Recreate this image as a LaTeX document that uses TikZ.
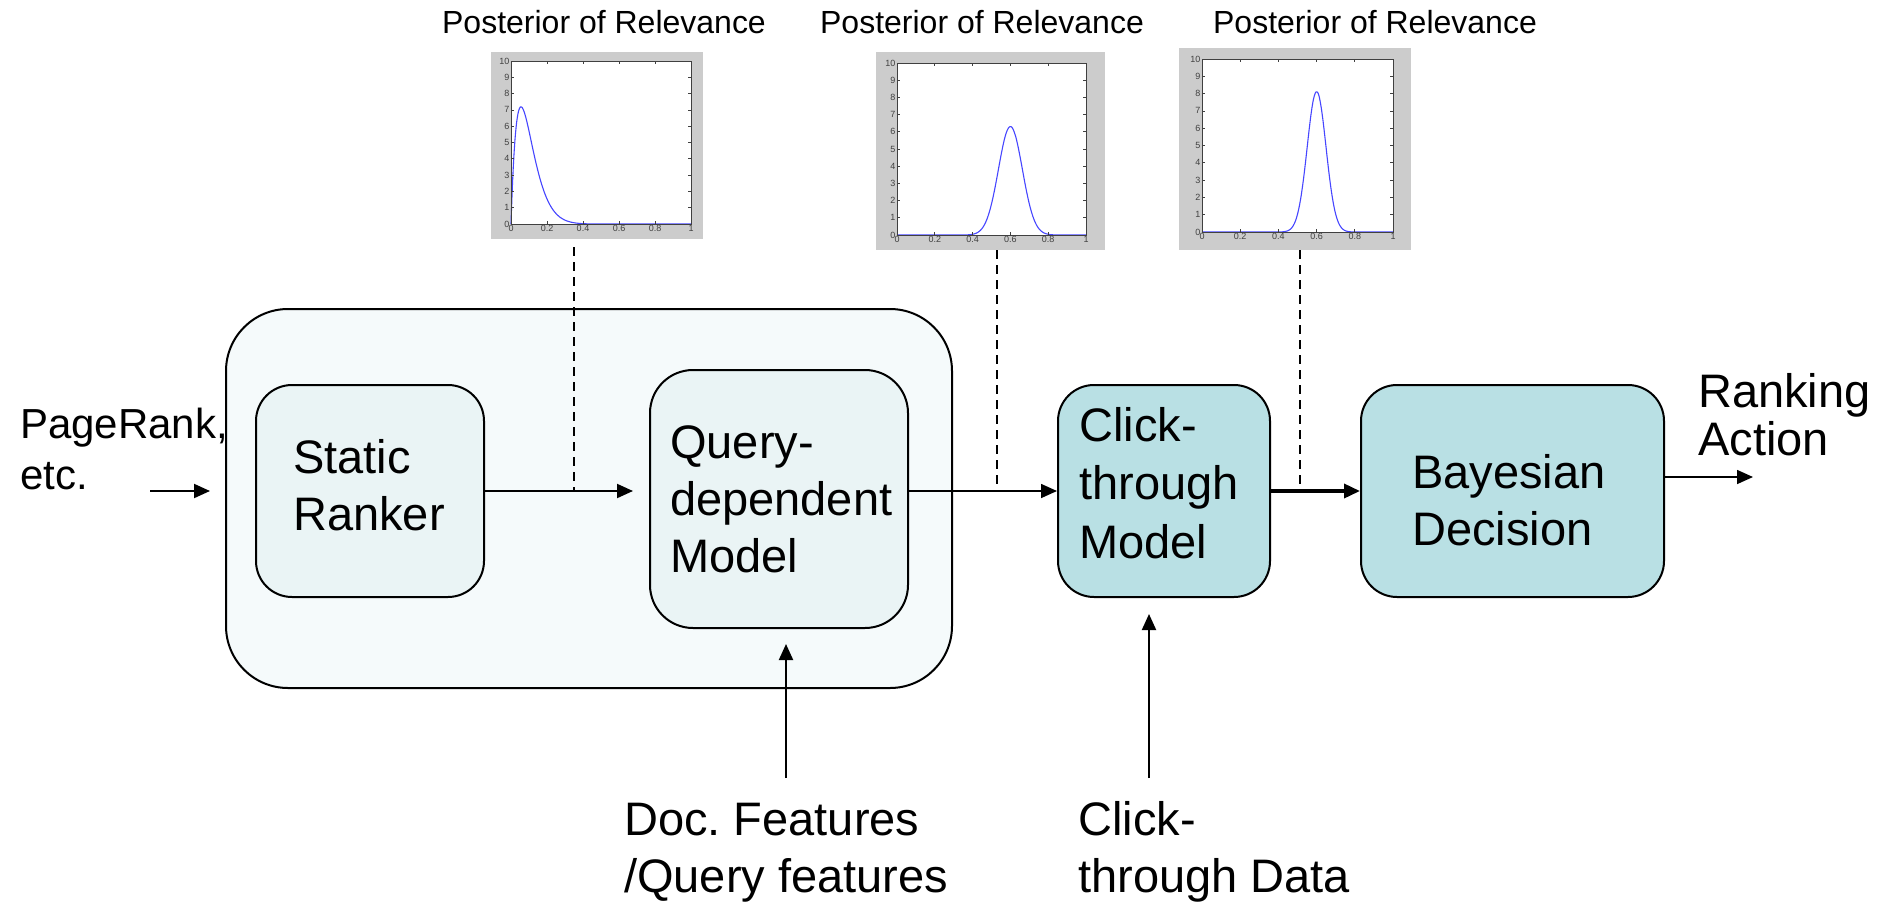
\documentclass[tikz,border=0pt]{standalone}
\usepackage{fontspec}
\setmainfont{Liberation Sans}
\usetikzlibrary{arrows.meta,calc}
\frenchspacing

\definecolor{outerfill}{RGB}{245,250,251}
\definecolor{innerfill}{RGB}{234,244,245}
\definecolor{tealfill}{RGB}{185,224,228}
\definecolor{framegrey}{RGB}{204,204,204}
\definecolor{axisgrey}{RGB}{64,64,64}
\definecolor{curveblue}{RGB}{70,70,255}

% Small MATLAB-style density plot drawn inside the axes box
% #1 left, #2 top, #3 right, #4 bottom of the axes box, #5 curve path
\newcommand\posteriorplot[5]{%
  \begin{scope}[shift={(#1,#4)}, x={({#3-#1},0)}, y={(0,{-(#4-#2)/10})}]
    \fill[white] (0,0) rectangle (1,10);
    \draw[curveblue, line width=1.1pt] #5;
    \draw[axisgrey, line width=0.8pt] (0,0) rectangle (1,10);
    \foreach \t/\lab in {0/0,0.2/0.2,0.4/0.4,0.6/0.6,0.8/0.8,1/1}{
      \draw[axisgrey, line width=0.7pt] (\t,0) -- ++(0,3pt) (\t,10) -- ++(0,-3pt);
      \node[ticklabel, anchor=north] at (\t,0) {\lab};
    }
    \foreach \k in {0,...,10}{
      \draw[axisgrey, line width=0.7pt] (0,\k) -- ++(3pt,0) (1,\k) -- ++(-3pt,0);
      \node[ticklabel, anchor=east] at (0,\k) {\k};
    }
  \end{scope}}

\begin{document}
\begin{tikzpicture}[x=1pt, y=-1pt,
  outerbox/.style={draw=black, line width=2pt, fill=outerfill, rounded corners=62pt},
  innerbox/.style={draw=black, line width=2pt, fill=innerfill, rounded corners=36pt},
  tealbox/.style={draw=black, line width=2pt, fill=tealfill, rounded corners=36pt},
  plotframe/.style={fill=framegrey, inner sep=0},
  bodytext/.style={font=\fontsize{47}{57}\selectfont, inner sep=0, align=left, anchor=base west},
  titletext/.style={font=\fontsize{32}{36}\selectfont, inner sep=0, anchor=base},
  ticklabel/.style={font=\fontsize{9}{10}\selectfont, text=axisgrey, inner sep=1.5pt},
  arr/.style={line width=2pt, -{Triangle[length=16pt,width=14pt]}},
  dashline/.style={line width=2.5pt, dash pattern=on 9pt off 6pt}]

\useasboundingbox (0,0) rectangle (1888,902);

% titles above the three posterior plots
\node[titletext] (title1) at (604,33) {Posterior of Relevance};
\node[titletext] (title2) at (982,33) {Posterior of Relevance};
\node[titletext] (title3) at (1375,33) {Posterior of Relevance};

% grey plot frames
\node[plotframe, minimum width=212, minimum height=187] (p1) at (597,145.5) {};
\node[plotframe, minimum width=229, minimum height=198] (p2) at (990.5,151) {};
\node[plotframe, minimum width=232, minimum height=202] (p3) at (1295,149) {};

\posteriorplot{511}{61}{691}{224}
  {(0,0) -- plot[domain=0:0.5, samples=160] (\x,{342*\x*(1-\x)^17}) -- (1,0)}
\posteriorplot{897}{63}{1086}{235}
  {(0,0) -- plot[domain=0.3:0.9, samples=160] (\x,{6.3*exp(-(\x-0.6)*(\x-0.6)/0.008014)}) -- (1,0)}
\posteriorplot{1202}{59}{1393}{232}
  {(0,0) -- plot[domain=0.35:0.85, samples=160] (\x,{8.1*exp(-(\x-0.6)*(\x-0.6)/0.004841)}) -- (1,0)}

% pipeline boxes
\node[outerbox, minimum width=726, minimum height=379] (stage) at (589,498.5) {};
\node[innerbox, minimum width=228, minimum height=212] (static) at (370,491) {};
\node[innerbox, minimum width=258, minimum height=258, rounded corners=43pt] (query) at (779,499) {};
\node[tealbox, minimum width=212, minimum height=212] (click) at (1164,491) {};
\node[tealbox, minimum width=303, minimum height=212] (bayes) at (1512.5,491) {};

% box and input/output texts (placed at the baseline of their last line)
\node[bodytext, font=\fontsize{42}{51}\selectfont] (pagerank) at (20,489) {PageRank,\\etc.};
\node[bodytext] (statictext) at (293,530) {Static\\Ranker};
\node[bodytext] (querytext) at (670,572) {Query-\\dependent\\Model};
\node[bodytext, font=\fontsize{47}{58.5}\selectfont] (clicktext) at (1079,558) {Click-\\through\\Model};
\node[bodytext] (bayestext) at (1412,545) {Bayesian\\Decision};
\node[bodytext, font=\fontsize{47}{48}\selectfont] (action) at (1698,455) {Ranking\\Action};
\node[bodytext] (features) at (624,892) {Doc. Features\\/Query features};
\node[bodytext] (clickdata) at (1078,892) {Click-\\through Data};

% connectors
\coordinate (prstart) at (150,491);
\draw[arr, shorten >=15pt] (prstart) -- (prstart -| stage.west);
\draw[arr, shorten >=16pt] (static.east) -- (static.east -| query.west);
\draw[arr, line width=1.6pt] (click.west -| query.east) -- (click.west);
\draw[arr, line width=3.5pt] (click.east) -- (bayes.west);
\coordinate (actionend) at (1753,477);
\draw[arr, line width=1.6pt] (actionend -| bayes.east) -- (actionend);
\coordinate (docstart) at (786,778);
\draw[arr, shorten >=15pt] (docstart) -- (docstart |- query.south);
\coordinate (datastart) at (1149,778);
\draw[arr, shorten >=16pt] (datastart) -- (datastart |- click.south);

% dashed links from each posterior plot down to the pipeline
\coordinate (d1) at ($(p1.south)+(-23,8)$);
\coordinate (d2) at ($(p2.south)+(6.5,0)$);
\coordinate (d3) at ($(p3.south)+(5,0)$);
\draw[dashline] (d1) -- (d1 |- static.east);
\draw[dashline] (d2) -- (d2 |- click.west);
\draw[dashline] (d3) -- (d3 |- click.east);
\end{tikzpicture}
\end{document}
